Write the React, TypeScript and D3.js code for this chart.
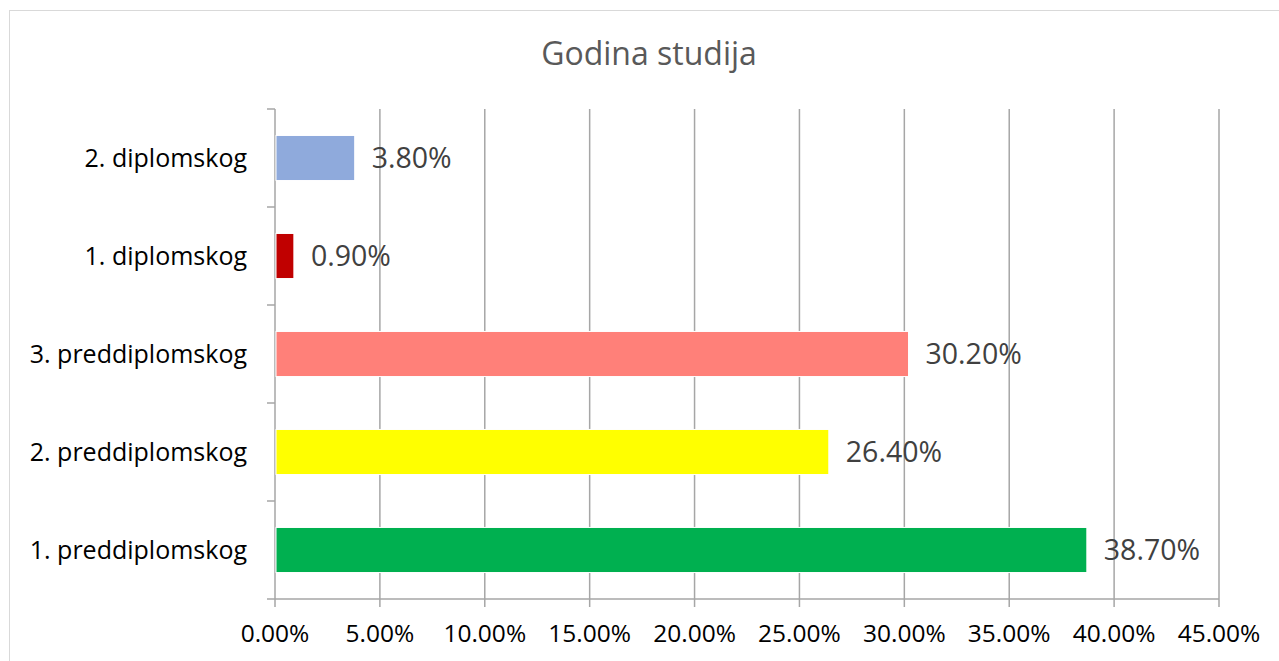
import React, { useEffect, useRef } from "react";
import * as d3 from "d3";

const categories = [
  "2. diplomskog",
  "1. diplomskog",
  "3. preddiplomskog",
  "2. preddiplomskog",
  "1. preddiplomskog",
];
const values = [3.8, 0.9, 30.2, 26.4, 38.7];
const colors = ["#8faadc", "#c00000", "#ff8079", "#ffff00", "#00b050"];
const xTicks = [0, 5, 10, 15, 20, 25, 30, 35, 40, 45];
const title = "Godina studija";

const W = 1279;
const H = 661;
const FONT = "'Open Sans', sans-serif";

export default function App() {
  const ref = useRef<SVGSVGElement>(null);

  useEffect(() => {
    const svg = d3.select(ref.current);
    svg.selectAll("*").remove();

    const left = 275, right = 1219, top = 109, bottom = 599;
    const x = d3.scaleLinear().domain([0, 45]).range([left, right]);
    const y = d3.scaleBand<string>().domain(categories).range([top, bottom]).paddingInner(0.54).paddingOuter(0.27);
    const band = d3.scaleBand<string>().domain(categories).range([top, bottom]);

    svg.append("rect").attr("x", 9.5).attr("y", 10.5).attr("width", 1280).attr("height", 660)
      .attr("fill", "#fff").attr("stroke", "#d9d9d9").attr("stroke-width", 1);

    svg.append("text").attr("x", 649).attr("y", 65).attr("text-anchor", "middle")
      .attr("font-family", FONT).attr("font-size", 32).attr("fill", "#595959").text(title);

    // gridlines
    svg.append("g").selectAll("line").data(xTicks.slice(1)).join("line")
      .attr("x1", d => x(d)).attr("x2", d => x(d)).attr("y1", top).attr("y2", bottom)
      .attr("stroke", "#a6a6a6").attr("stroke-width", 1.5);

    // x axis line + ticks
    svg.append("line").attr("x1", left).attr("x2", right).attr("y1", bottom).attr("y2", bottom)
      .attr("stroke", "#a6a6a6").attr("stroke-width", 1.5);
    svg.append("g").selectAll("line").data(xTicks).join("line")
      .attr("x1", d => x(d)).attr("x2", d => x(d)).attr("y1", bottom).attr("y2", bottom + 8)
      .attr("stroke", "#a6a6a6").attr("stroke-width", 1.5);
    svg.append("g").selectAll("text").data(xTicks).join("text")
      .attr("x", d => x(d)).attr("y", 642).attr("text-anchor", "middle")
      .attr("font-family", FONT).attr("font-size", 24.5).attr("fill", "#000")
      .text(d => d.toFixed(2) + "%");

    // y axis line + ticks
    svg.append("line").attr("x1", left).attr("x2", left).attr("y1", top).attr("y2", bottom)
      .attr("stroke", "#a6a6a6").attr("stroke-width", 1.5);
    const yTickPos = categories.map(c => band(c)!).concat([bottom]);
    svg.append("g").selectAll("line").data(yTickPos).join("line")
      .attr("x1", left - 8).attr("x2", left).attr("y1", d => d).attr("y2", d => d)
      .attr("stroke", "#a6a6a6").attr("stroke-width", 1.5);

    // category labels
    svg.append("g").selectAll("text").data(categories).join("text")
      .attr("x", 247).attr("y", d => band(d)! + band.bandwidth() / 2)
      .attr("dy", "0.36em").attr("text-anchor", "end")
      .attr("font-family", FONT).attr("font-size", 25).attr("fill", "#000").text(d => d);

    // bars
    svg.append("g").selectAll("rect").data(values).join("rect")
      .attr("x", x(0) + 1).attr("y", (_, i) => y(categories[i])!)
      .attr("width", d => x(d) - x(0) - 1).attr("height", y.bandwidth())
      .attr("fill", (_, i) => colors[i]).attr("stroke", "#fff").attr("stroke-width", 1);

    // value labels
    svg.append("g").selectAll("text").data(values).join("text")
      .attr("x", d => x(d) + 17).attr("y", (_, i) => y(categories[i])! + y.bandwidth() / 2)
      .attr("dy", "0.36em")
      .attr("font-family", FONT).attr("font-size", 28.5).attr("fill", "#404040")
      .text(d => d.toFixed(2) + "%");
  }, []);

  return <svg ref={ref} width={W} height={H} style={{ position: "absolute", left: 0, top: 0, display: "block" }} />;
}
